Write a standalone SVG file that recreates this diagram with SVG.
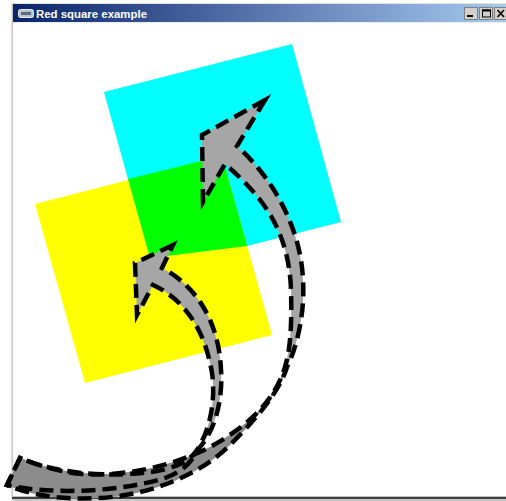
<svg xmlns="http://www.w3.org/2000/svg" width="506" height="501" viewBox="0 0 506 501">
<defs>
<linearGradient id="tb" x1="0" y1="0" x2="1" y2="0">
<stop offset="0" stop-color="#0a246a"/>
<stop offset="1" stop-color="#a6caf0"/>
</linearGradient>
<path id="a1" d="M265,100 L202,135 L203,202 L225,164 C262,196 289,230 291,290 C292,330 290,350 285,367 C275,400 250,425 210,447 C170,468 110,480 67,472 C45,468 30,462 20,458 L7,485 C30,495 60,500 100,498 C150,495 200,475 230,445 C260,415 280,390 287,367 C298,345 305,310 303,280 C301,230 275,180 237,146 Z"/>
<path id="a2" d="M173,245 L135,263 L137,315 L153,285 C185,300 205,330 212,373 C216,400 210,430 197,450 C190,462 170,470 150,472 C110,477 60,475 20,458 L7,485 C50,495 120,492 165,478 C182,472 192,462 200,447 C215,430 223,400 221,370 C219,320 195,285 162,268 Z"/>
<clipPath id="tail"><polygon points="0,501 0,440 195,446 212,436 286,366 310,380 310,501"/></clipPath>
</defs>
<style>
.fill{fill:#a6a6a6;stroke:none}
.dark{fill:#8c8c8c;stroke:none}
.edge{fill:none;stroke:#000;stroke-width:4.5;stroke-dasharray:14 7}
.btn{fill:#d4d0c8;stroke:#808080;stroke-width:1}
.glyph{fill:#000;stroke:none}
.title{font-family:"Liberation Sans",Arial,sans-serif;font-weight:bold;font-size:11px;fill:#fff}
</style>
<rect width="506" height="501" fill="#fff"/>
<g id="window">
<rect x="11" y="3" width="495" height="1" fill="#e6e2da"/>
<rect x="11" y="3" width="1" height="495" fill="#e6e2da"/>
<rect x="12" y="4" width="1" height="494" fill="#c4c4c4"/>
<rect x="13" y="4" width="493" height="18" fill="url(#tb)"/>
<rect x="13" y="22" width="493" height="1" fill="#eeeeee"/>
<rect x="12" y="496" width="494" height="1" fill="#c0c0c0"/>
<rect x="12" y="497" width="494" height="2" fill="#404040"/>
<rect x="12" y="499" width="494" height="2" fill="#c8c8c8"/>
<g id="icon">
<rect x="18.5" y="9.5" width="15" height="8" rx="2" fill="#b8c4d0" stroke="#e8ecf0"/>
<rect x="21" y="12" width="10" height="3" fill="#5a6c84"/>
</g>
<text class="title" x="36" y="18" textLength="111" lengthAdjust="spacingAndGlyphs">Red square example</text>
<g id="buttons">
<rect class="btn" x="464.5" y="7.5" width="13" height="12"/>
<rect class="glyph" x="467" y="15" width="6" height="2"/>
<rect class="btn" x="479.5" y="7.5" width="13" height="12"/>
<rect x="482.5" y="10" width="8" height="7" fill="none" stroke="#000" stroke-width="1"/>
<rect x="482" y="9.5" width="9" height="2" fill="#000"/>
<rect class="btn" x="494.5" y="7.5" width="13" height="12"/>
<path d="M497.5,10 L504,17 M504,10 L497.5,17" stroke="#000" stroke-width="1.6"/>
</g>
</g>
<g id="cyan-square">
<polygon points="104,92 292,44 341,222 153,270" fill="#00ffff"/>
</g>
<g id="yellow-square">
<polygon points="35,204 222,156 272,335 85,383" fill="#ffff00"/>
</g>
<g id="overlap">
<polygon points="128,179 222,156 247,246 150,258" fill="#00ff00"/>
</g>
<g id="connectors">
<use href="#a1" class="fill"/>
<use href="#a2" class="fill"/>
<g clip-path="url(#tail)">
<use href="#a1" class="dark"/>
<use href="#a2" class="dark"/>
</g>
<use href="#a1" class="edge"/>
<use href="#a2" class="edge"/>
</g>
</svg>
